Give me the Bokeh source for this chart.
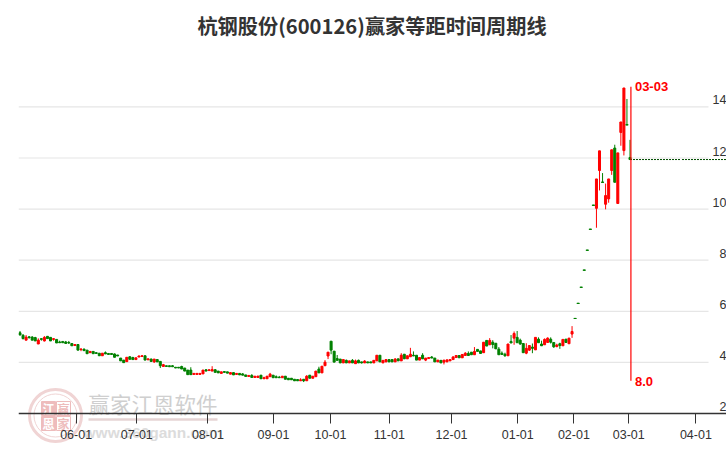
from bokeh.plotting import figure
from bokeh.models import FixedTicker
from bokeh.core.properties import value
from bokeh.embed import file_html
from bokeh.resources import INLINE

title_text = "杭钢股份(600126)赢家等距时间周期线"
x_ticks = [18.4, 38.3, 61.6, 83.1, 101.8, 121.1, 141.5, 163.2, 181.6, 199.6, 221.6]
x_labels = ["06-01", "07-01", "08-01", "09-01", "10-01", "11-01", "12-01", "01-01", "02-01", "03-01", "04-01"]
y_ticks = [2, 4, 6, 8, 10, 12, 14]

ohlc_a = [
(5.16,5.07,5.23,5.07),(5.06,4.93,5.11,4.90),(4.87,4.99,5.07,4.87),(5.00,4.97,5.03,4.93),(4.99,4.87,5.03,4.87),
(4.97,4.84,5.00,4.84),(4.72,4.87,4.94,4.72),(4.93,4.90,4.95,4.85),(4.84,4.98,5.03,4.82),(5.02,4.93,5.03,4.93),
(4.98,4.84,4.98,4.84),(4.90,4.93,4.95,4.85),(4.90,4.76,4.90,4.76),(4.80,4.77,4.85,4.76),(4.82,4.77,4.82,4.77),
(4.80,4.74,4.84,4.72),(4.78,4.76,4.84,4.72),(4.74,4.65,4.74,4.65),(4.66,4.70,4.70,4.66),(4.70,4.48,4.70,4.48),
(4.50,4.52,4.56,4.44),(4.52,4.46,4.54,4.46),(4.48,4.34,4.48,4.34),(4.38,4.43,4.43,4.38),(4.43,4.34,4.43,4.34),
(4.38,4.35,4.40,4.35),(4.36,4.26,4.36,4.26),(4.26,4.36,4.36,4.26),(4.38,4.33,4.43,4.33),(4.35,4.31,4.35,4.31),
(4.35,4.31,4.35,4.31),(4.33,4.20,4.35,4.20),(4.29,4.25,4.29,4.25),(4.17,4.06,4.17,4.06),(4.09,3.99,4.09,3.99),
(4.03,4.20,4.20,4.03),(4.22,4.12,4.24,4.12),(4.19,4.11,4.22,4.11),(4.11,4.18,4.18,4.11),(4.21,4.25,4.27,4.21),
(4.23,4.26,4.29,4.23),(4.26,4.09,4.26,4.09),(4.10,4.14,4.14,4.10),(4.13,4.04,4.15,4.02),(4.02,4.13,4.13,3.98),
(4.11,4.02,4.13,4.02),(4.04,3.87,4.04,3.78),(3.84,3.91,3.94,3.84),(3.87,3.84,3.87,3.84),(3.87,3.83,3.87,3.83),
(3.87,3.83,3.89,3.83),(3.81,3.78,3.81,3.78),(3.81,3.78,3.81,3.78),(3.84,3.74,3.87,3.74),(3.78,3.66,3.78,3.66),
(3.70,3.52,3.70,3.52),(3.70,3.52,3.81,3.52),(3.53,3.57,3.57,3.53),(3.53,3.57,3.57,3.53),(3.53,3.57,3.57,3.53),
(3.55,3.70,3.70,3.55),(3.71,3.66,3.73,3.66),(3.68,3.71,3.73,3.68),(3.66,3.72,3.85,3.66),(3.71,3.61,3.74,3.61),
(3.66,3.59,3.66,3.59),(3.57,3.63,3.63,3.57),(3.64,3.61,3.66,3.61),(3.63,3.58,3.63,3.58),(3.54,3.60,3.62,3.54),
(3.60,3.51,3.61,3.51),(3.53,3.57,3.57,3.53),(3.57,3.51,3.58,3.51),(3.55,3.50,3.58,3.50),(3.51,3.45,3.51,3.45),
(3.45,3.49,3.49,3.45),(3.49,3.41,3.54,3.41),(3.41,3.46,3.46,3.41),(3.41,3.46,3.48,3.41),
]
ohlc_b = [
(3.50,3.36,3.50,3.36),(3.36,3.40,3.44,3.36),(3.36,3.46,3.46,3.36),(3.44,3.54,3.59,3.44),(3.50,3.40,3.50,3.40),
(3.44,3.40,3.49,3.40),(3.42,3.40,3.47,3.40),(3.40,3.46,3.46,3.40),(3.46,3.34,3.46,3.34),(3.38,3.32,3.38,3.32),
(3.38,3.32,3.38,3.32),(3.34,3.28,3.34,3.28),(3.33,3.28,3.33,3.28),(3.28,3.32,3.38,3.28),(3.34,3.28,3.34,3.23),
(3.28,3.46,3.50,3.28),(3.50,3.38,3.50,3.38),(3.38,3.46,3.46,3.38),(3.44,3.66,3.66,3.44),(3.74,3.59,3.83,3.59),
(3.59,3.85,3.85,3.59),(3.87,4.01,4.09,3.87),(4.25,4.40,4.40,4.13),(4.83,4.48,4.83,4.32),(4.44,4.01,4.44,4.01),
(4.15,4.08,4.29,4.08),(4.13,3.98,4.13,3.98),(3.98,4.11,4.11,3.98),(4.08,3.98,4.11,3.98),(3.98,4.06,4.06,3.98),
(4.08,3.98,4.13,3.98),(3.95,4.06,4.11,3.95),(4.08,3.98,4.11,3.98),(4.02,3.98,4.02,3.96),(3.98,4.05,4.09,3.98),
(4.02,3.98,4.02,3.98),(4.02,3.98,4.02,3.98),(3.98,4.08,4.08,3.98),(4.06,4.28,4.28,4.06),(4.28,4.02,4.28,4.02),
(3.98,4.08,4.08,3.98),(4.02,4.11,4.11,4.02),(4.11,4.02,4.11,4.02),(4.11,4.02,4.11,4.02),(4.02,4.13,4.17,4.02),
(4.14,4.06,4.14,4.06),(4.06,4.28,4.36,4.06),(4.32,4.14,4.32,4.14),(4.14,4.26,4.26,4.14),(4.22,4.32,4.57,4.22),
(4.28,4.25,4.43,4.25),(4.28,4.09,4.28,4.09),(4.09,4.19,4.19,4.09),(4.28,4.14,4.36,4.14),(4.09,4.17,4.17,4.05),
(4.15,4.19,4.19,4.15),(4.21,4.17,4.25,4.17),
]
ohlc_c = [
(4.17,4.02,4.17,4.02),(4.02,4.09,4.09,4.02),(4.08,3.98,4.08,3.98),(4.01,4.09,4.09,3.92),(4.02,4.10,4.10,4.02),
(4.06,4.11,4.11,4.06),(4.11,4.21,4.25,4.11),(4.19,4.27,4.27,4.19),(4.27,4.18,4.27,4.18),(4.18,4.31,4.31,4.18),
(4.27,4.36,4.40,4.27),(4.35,4.27,4.43,4.27),(4.40,4.30,4.40,4.30),(4.30,4.43,4.60,4.30),(4.51,4.43,4.51,4.43),
(4.45,4.35,4.45,4.35),(4.38,4.79,4.79,4.38),(4.86,4.64,4.86,4.64),(4.69,4.86,4.95,4.69),(4.79,4.70,4.87,4.55),
(4.75,4.53,4.75,4.53),(4.52,4.30,4.60,4.30),(4.36,4.31,4.43,4.31),(4.32,4.26,4.38,4.22),(4.26,4.72,4.72,4.26),
(4.82,4.76,5.07,4.76),(4.95,5.13,5.21,4.69),(4.98,4.77,5.23,4.77),(4.87,4.72,4.93,4.69),(4.74,4.38,4.74,4.38),
(4.36,4.55,4.75,4.32),(4.48,4.66,4.66,4.45),(4.60,4.55,4.74,4.36),(4.49,4.98,4.98,4.49),(4.91,4.77,4.98,4.77),
(4.72,4.65,4.85,4.65),(4.69,4.90,4.94,4.69),(4.78,4.95,4.98,4.78),(4.91,4.79,4.98,4.74),(4.78,4.61,4.78,4.57),
(4.62,4.68,4.73,4.59),(4.73,4.66,4.77,4.53),(4.65,4.90,4.90,4.65),(4.91,4.78,4.91,4.78),(4.73,4.95,4.95,4.73),
(5.11,5.21,5.42,4.96),
(5.72,5.72,5.72,5.72),(6.31,6.31,6.31,6.31),(6.94,6.94,6.94,6.94),(7.61,7.61,7.61,7.61),(8.39,8.39,8.39,8.39),
(9.21,9.21,9.21,9.21),(10.15,10.15,10.15,10.15),
(10.03,11.18,11.18,9.27),(11.51,12.28,12.28,10.73),(11.05,11.05,11.41,11.05),(10.19,10.53,11.00,9.99),
(10.40,11.18,11.18,10.25),(11.51,12.32,12.32,11.34),(12.39,11.05,12.52,11.05),(10.22,12.20,12.20,10.22),
(13.00,13.41,13.41,12.48),(12.29,14.74,14.74,12.10),(13.30,13.30,14.31,13.30),(12.02,11.94,12.71,11.94),
]
ohlc = ohlc_a + ohlc_b + ohlc_c
opens = [r[0] for r in ohlc]
closes = [r[1] for r in ohlc]
highs = [r[2] for r in ohlc]
lows = [r[3] for r in ohlc]
xs = list(range(len(ohlc)))

last_price = 11.94
event_date = "03-03"
event_top = 14.79
event_bottom = 3.28
event_label = "8.0"

RED = "#ff0000"
GREEN = "#008000"
colors = [RED if c > o else GREEN for o, c in zip(opens, closes)]

# pixel helpers: one trading day is 3.05 px, one price unit 25.55 px
PX_X = 3.05
PX_Y = 25.55
def dx(px):
    return (px - 19.5) / PX_X
def dy(py):
    return 2 + (413.0 - py) / PX_Y

p = figure(width=726, height=450, output_backend="svg", toolbar_location=None,
           x_range=(dx(18), dx(726)), y_range=(dy(450), dy(0)),
           min_border_left=18, min_border_right=0, min_border_top=0, min_border_bottom=0,
           outline_line_color=None, background_fill_color="white", border_fill_color="white")
p.grid.visible = False
p.yaxis.visible = False

ax = p.xaxis[0]
ax.fixed_location = 2
ax.ticker = FixedTicker(ticks=x_ticks)
ax.major_label_overrides = dict(zip(x_ticks, x_labels))
ax.axis_line_color = "#333333"
ax.axis_line_width = 1.5
ax.major_tick_line_color = "#333333"
ax.major_tick_line_width = 1
ax.major_tick_in = 0
ax.major_tick_out = 10
ax.minor_tick_line_color = None
ax.major_label_standoff = 6
ax.major_label_text_font = "Liberation Sans"
ax.major_label_text_font_size = "12.5px"
ax.major_label_text_color = "#333333"

# watermark
PINK = "#f0d4d4"
p.scatter([dx(55)], [dy(415)], size=52, marker="circle", fill_color=None, line_color=PINK, line_width=3)
p.scatter([dx(55)], [dy(415)], size=43, marker="circle", fill_color=None, line_color=PINK, line_width=1)
seal_chars = ["江", "赢", "恩", "家"]
seal_px = [(48, 408), (63, 408), (48, 423), (63, 423)]
seal_fill = ["#eebcbc", "#ffffff", "#eebcbc", "#ffffff"]
seal_text = ["#ffffff", "#eebcbc", "#ffffff", "#eebcbc"]
p.scatter([dx(a) for a, b in seal_px], [dy(b) for a, b in seal_px], size=14, marker="square",
          fill_color=seal_fill, line_color="#eebcbc", line_width=1)
p.text([dx(a) for a, b in seal_px], [dy(b) for a, b in seal_px], text=seal_chars, text_align="center",
       text_baseline="middle", text_font=value("Noto Sans CJK SC"), text_font_style="bold",
       text_font_size="12px", text_color=seal_text)
p.text([dx(152.5)], [dy(403)], text=["赢家江恩软件"], text_align="center", text_baseline="middle",
       text_font=value("Noto Sans CJK SC"), text_font_size="21.5px", text_color="#cfcfcf")
p.segment([dx(88)], [dy(419)], [dx(217)], [dy(419)], line_color="#e6d4d4", line_width=2.5)
p.text([dx(152.5)], [dy(432)], text=["www.360gann.com"], text_align="center", text_baseline="middle",
       text_font=value("Liberation Sans"), text_font_style="bold", text_font_size="15.5px", text_color="#dcdcdc")

# grid
grid_ticks = [t for t in y_ticks if t > 2]
p.segment([dx(18)] * len(grid_ticks), grid_ticks, [dx(708)] * len(grid_ticks), grid_ticks,
          line_color="#e6e6e6", line_width=1.2)

# candles
p.segment(xs, highs, xs, lows, line_color=colors, line_width=1)
p.vbar(x=xs, top=[max(o, c) for o, c in zip(opens, closes)], bottom=[min(o, c) for o, c in zip(opens, closes)],
       width=0.66, fill_color=colors, line_color=colors, line_width=1)
doji = [i for i in xs if opens[i] == closes[i]]
p.segment([i - 0.49 for i in doji], [closes[i] for i in doji], [i + 0.49 for i in doji], [closes[i] for i in doji],
          line_color=GREEN, line_width=1)

# last price line and event line
p.segment([xs[-1], dx(681.5)], [last_price] * 2, [dx(680.5), dx(726)], [last_price] * 2,
          line_color="#004d00", line_width=1, line_dash="2 1")
p.segment([xs[-1] + 0.3], [event_bottom], [xs[-1] + 0.3], [event_top], line_color=RED, line_width=1.2)
p.text([xs[-1] + 0.3], [event_top], text=[event_date], x_offset=4, text_baseline="middle",
       text_font=value("Liberation Sans"), text_font_style="bold", text_font_size="13px", text_color=RED)
p.text([xs[-1] + 0.3], [event_bottom], text=[event_label], x_offset=4, y_offset=1, text_baseline="middle",
       text_font=value("Liberation Sans"), text_font_style="bold", text_font_size="13px", text_color=RED)

# y labels
p.text([dx(726)] * len(y_ticks), y_ticks, text=[str(t) for t in y_ticks], y_offset=-7, text_align="right",
       text_baseline="middle", text_font=value("Liberation Sans"), text_font_size="12.5px", text_color="#333333")

# title
p.text([dx(371.5)], [dy(24.5)], text=[title_text], text_align="center", text_baseline="middle",
       text_font=value("Noto Sans CJK SC"), text_font_style="bold", text_font_size="20.2px", text_color="#333333")

open("out.html", "w").write(file_html(p, INLINE))
